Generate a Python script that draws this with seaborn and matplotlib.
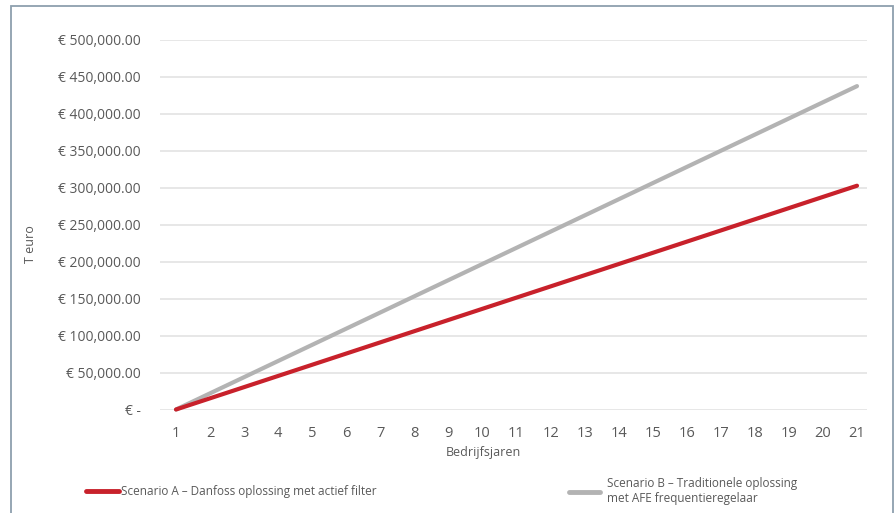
import matplotlib
matplotlib.use("Agg")
import matplotlib.pyplot as plt
from matplotlib.lines import Line2D
from matplotlib.patches import Rectangle
from matplotlib.ticker import FuncFormatter
import pandas as pd
import seaborn as sns

# Cumulative costs per operating year
years = list(range(1, 22))
scenario_a = [0, 15120, 30240, 45360, 60480, 75600, 90720, 105840, 120960, 136080,
              151200, 166320, 181440, 196560, 211680, 226800, 241920, 257040,
              272160, 287280, 302400]
scenario_b = [0, 21850, 43700, 65550, 87400, 109250, 131100, 152950, 174800,
              196650, 218500, 240350, 262200, 284050, 305900, 327750, 349600,
              371450, 393300, 415150, 437000]
label_a = "Scenario A \u2013 Danfoss oplossing met actief filter"
label_b = "Scenario B \u2013 Traditionele oplossing\nmet AFE frequentieregelaar"
y_ticks = [0, 50000, 100000, 150000, 200000, 250000, 300000, 350000, 400000,
           450000, 500000]

df = pd.DataFrame({
    "jaar": years * 2,
    "kosten": scenario_a + scenario_b,
    "scenario": [label_a] * len(years) + [label_b] * len(years),
})

sns.set_theme(style="white")
plt.rcParams["font.family"] = ["Open Sans", "DejaVu Sans"]

text_col = "#595959"
red = "#c8212b"
grey = "#b3b3b3"

fig = plt.figure(figsize=(8.96, 5.13), dpi=100)
ax = fig.add_axes([160 / 896, 1 - 409.5 / 513, 707 / 896, 370 / 513])

sns.lineplot(data=df, x="jaar", y="kosten", hue="scenario",
             palette={label_a: red, label_b: grey}, linewidth=3.0,
             hue_order=[label_b, label_a], legend=False, ax=ax)
for ln in ax.lines:
    ln.set_solid_capstyle("round")
    ln.set_clip_on(False)

ax.set_xlim(1 - 16 / 34.05, 21 + 10 / 34.05)
ax.set_ylim(0, 500000)
ax.set_xticks(years)
ax.set_yticks(y_ticks)


def euro(v, _pos):
    if v == 0:
        return "\u20ac -"
    return "\u20ac {:,.2f}".format(v)


ax.yaxis.set_major_formatter(FuncFormatter(euro))
ax.grid(axis="y", color="#e3e3e3", linewidth=1.2)
ax.grid(axis="x", visible=False)
ax.set_axisbelow(True)
for s in ax.spines.values():
    s.set_visible(False)
ax.tick_params(axis="x", length=0, colors=text_col, labelsize=10.5, pad=12)
ax.tick_params(axis="y", length=0, colors=text_col, labelsize=10, pad=14)

ax.set_xlabel("Bedrijfsjaren", color=text_col, fontsize=9)
ax.xaxis.set_label_coords((483 - 160) / 707, -0.098)
ax.set_ylabel("T euro", color=text_col, fontsize=9)
ax.yaxis.set_label_coords((37 - 160) / 707, (409.5 - 244) / 370)

# Legend entries placed under the plot
h_a = Line2D([], [], color=red, linewidth=3.5, solid_capstyle="round")
h_b = Line2D([], [], color=grey, linewidth=3.5, solid_capstyle="round")
leg_a = fig.legend([h_a], [label_a], loc="center left",
                   bbox_to_anchor=(78 / 896, 1 - 492 / 513), frameon=False,
                   fontsize=8.5, handlelength=2.8, handletextpad=0.15,
                   labelcolor=text_col, borderpad=0.2)
leg_b = fig.legend([h_b], [label_b], loc="center left",
                   bbox_to_anchor=(561 / 896, 1 - 491 / 513), frameon=False,
                   fontsize=8.5, handlelength=2.6, handletextpad=0.6,
                   labelcolor=text_col, borderpad=0.2)

# Outer frame around the chart area
fig.patches.append(Rectangle((11 / 896, -0.05), (893 - 11) / 896, 1 - 6 / 513 + 0.05,
                             transform=fig.transFigure, fill=False,
                             edgecolor="#8d9fae", linewidth=1.3))

fig.savefig("out.png", dpi=100)
